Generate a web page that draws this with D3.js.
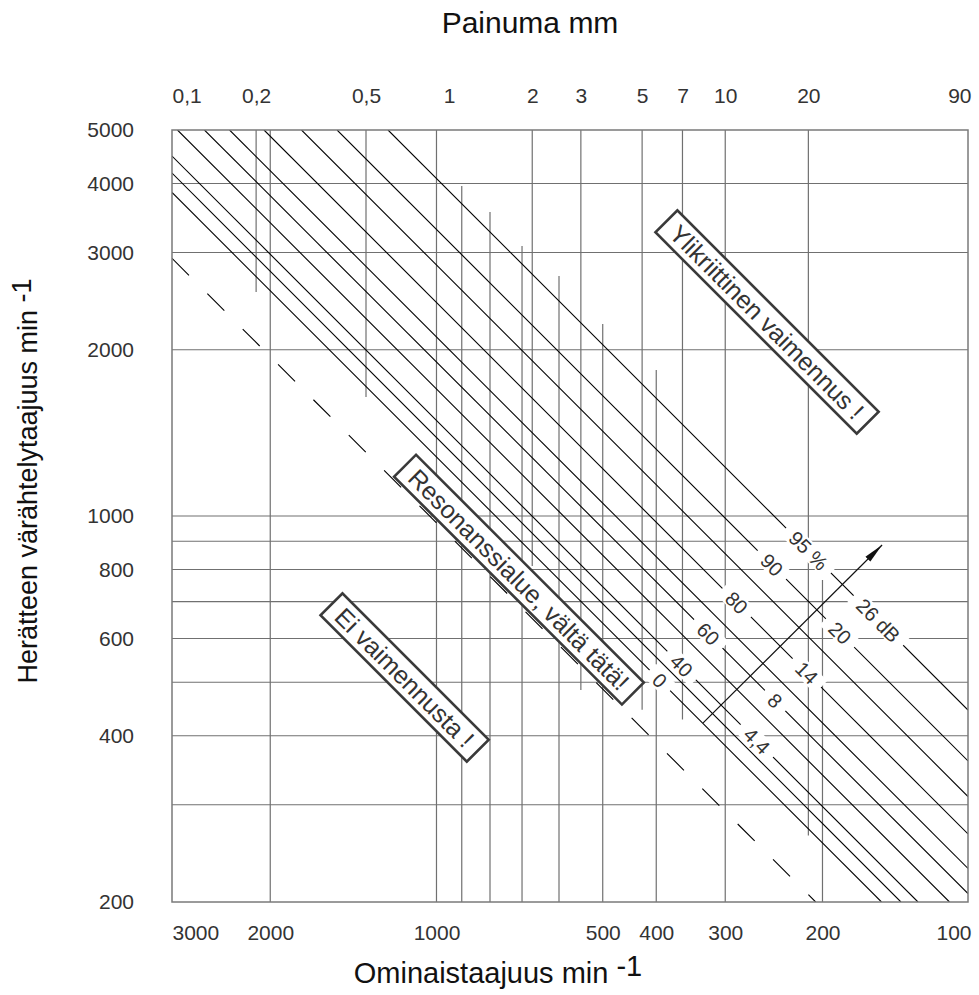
<!DOCTYPE html>
<html><head><meta charset="utf-8">
<script src="https://cdn.jsdelivr.net/npm/d3@7"></script>
<style>
body{margin:0;background:#fff}
svg text{font-family:"Liberation Sans",Arial,Helvetica,sans-serif}
</style>
</head><body>
<svg id="c" width="979" height="995"></svg>
<script>
// ---------------- data ----------------
const yTicks = [5000, 4000, 3000, 2000, 1000, 800, 600, 400, 200];
const yGrid = [4000, 3000, 2000, 1000, 900, 800, 700, 600, 500, 400, 300];
const xTicks = [3000, 2000, 1000, 500, 400, 300, 200, 100];
const freqLines = [2000, 1000, 900, 800, 700, 600, 500, 400, 300, 200];
const freqLineFrom = [5000, 5000, 3959, 3551, 3083, 2719, 2226, 1838, 5000, 766];
const deflTicks = [0.1, 0.2, 0.5, 1, 2, 3, 5, 7, 10, 20, 90];
const deflLines = [0.2, 0.5, 2, 3, 5, 7, 20];
const deflLineTo = [2544, 1643, 812, 484, 446, 428, 264];
const resonanceRatio = 0.972;
const lineRatios = [1.279, 1.387, 1.489, 1.698, 1.900, 2.110, 2.436, 2.848, 3.303, 4.085];
const pctLabels = ["0", "", "40", "", "60", "", "80", "", "90", "95 %"];
const pctLabelAt = [394, null, 360, null, 322, null, 286, null, 247, 212];
const dbLabels = ["", "", "4,4", "", "8", "", "14", "", "20", "26 dB"];
const dbLabelAt = [null, null, 263, null, 243.7, null, 213.5, null, 185.9, 158.4];
const arrowFrom = [329, 422];
const arrowTo = [156, 886];
const noteTexts = ["Ylikriittinen vaimennus !", "Resonanssialue, vältä tätä!", "Ei vaimennusta !"];
const noteX = [252, 709, 1142];
const noteY = [2245, 767, 510];

// ---------------- layout ----------------
const L = 172, R = 968, T = 130, B = 902;
const svg = d3.select("#c");

const y = d3.scaleLog().domain([200, 5000]).range([B, T]);
const pxPerDec = (B - T) / Math.log10(5000 / 200);
const x0 = L + 1;
const x = d3.scaleLog().domain([3000, 100]).range([x0, x0 + pxPerDec * Math.log10(3000 / 100)]);
const xTop = d3.scaleLog().domain([0.1, 90]).range(x.range());

const defs = svg.append("defs");
defs.append("clipPath").attr("id", "plot").append("rect")
  .attr("x", L).attr("y", T).attr("width", R - L).attr("height", B - T);
defs.append("marker").attr("id", "arr").attr("viewBox", "0 0 20 10")
  .attr("refX", 20).attr("refY", 5).attr("markerWidth", 20).attr("markerHeight", 10)
  .attr("markerUnits", "userSpaceOnUse").attr("orient", "auto")
  .append("path").attr("d", "M0,1.5L20,5L0,8.5Z").attr("fill", "#111");

const plot = svg.append("g").attr("clip-path", "url(#plot)");
const gridColor = "#707070";

plot.selectAll("line.hg").data(yGrid).join("line").attr("class", "hg")
  .attr("x1", L).attr("x2", R).attr("y1", d => y(d)).attr("y2", d => y(d))
  .attr("stroke", gridColor).attr("stroke-width", 1.2);

plot.selectAll("line.fv").data(freqLines).join("line").attr("class", "fv")
  .attr("x1", d => x(d)).attr("x2", d => x(d))
  .attr("y1", (d, i) => y(freqLineFrom[i])).attr("y2", y(200))
  .attr("stroke", gridColor).attr("stroke-width", 1.2);

plot.selectAll("line.dv").data(deflLines).join("line").attr("class", "dv")
  .attr("x1", d => xTop(d)).attr("x2", d => xTop(d))
  .attr("y1", y(5000)).attr("y2", (d, i) => y(deflLineTo[i]))
  .attr("stroke", gridColor).attr("stroke-width", 1.2);

// diagonal lines
const vL = x.invert(L), vR = x.invert(R);
function ends(r) {
  const v0 = Math.min(vL, 5000 / r), v1 = Math.max(vR, 200 / r);
  return [[v0, r * v0], [v1, r * v1]];
}
const line = d3.line().x(d => x(d[0])).y(d => y(d[1]));
plot.append("path").attr("d", line(ends(resonanceRatio)))
  .attr("fill", "none").attr("stroke", "#000").attr("stroke-width", 1.1)
  .attr("stroke-dasharray", "24 26");
plot.selectAll("path.diag").data(lineRatios).join("path").attr("class", "diag")
  .attr("d", r => line(ends(r)))
  .attr("fill", "none").attr("stroke", "#000").attr("stroke-width", 1.1);

// line labels
function lineLabel(text, v, r) {
  const g = svg.append("g").attr("transform", `translate(${x(v)},${y(r * v)}) rotate(45)`);
  const bg = g.append("rect").attr("fill", "#fff");
  const t = g.append("text").text(text).attr("text-anchor", "middle").attr("dy", "0.36em")
    .attr("font-size", 20).attr("fill", "#333");
  const w = t.node().getComputedTextLength();
  bg.attr("x", -w / 2 - 9).attr("width", w + 18).attr("y", -9).attr("height", 18);
}
lineRatios.forEach((r, i) => {
  if (pctLabels[i]) lineLabel(pctLabels[i], pctLabelAt[i], r);
  if (dbLabels[i]) lineLabel(dbLabels[i], dbLabelAt[i], r);
});

// arrow
svg.append("line")
  .attr("x1", x(arrowFrom[0])).attr("y1", y(arrowFrom[1]))
  .attr("x2", x(arrowTo[0])).attr("y2", y(arrowTo[1]))
  .attr("stroke", "#111").attr("stroke-width", 1.2).attr("marker-end", "url(#arr)");

// frame
svg.append("rect").attr("x", L).attr("y", T).attr("width", R - L).attr("height", B - T)
  .attr("fill", "none").attr("stroke", "#7a7a7a").attr("stroke-width", 1.5);

// notes
noteTexts.forEach((txt, i) => {
  const g = svg.append("g").attr("transform", `translate(${x(noteX[i])},${y(noteY[i])}) rotate(45)`);
  const bg = g.append("rect").attr("fill", "#fff").attr("stroke", "#3a3a3a").attr("stroke-width", 2.6);
  const t = g.append("text").text(txt).attr("text-anchor", "middle").attr("dy", "0.36em")
    .attr("font-size", 25).attr("fill", "#333");
  const w = t.node().getComputedTextLength();
  bg.attr("x", -w / 2 - 11).attr("width", w + 22).attr("y", -15.5).attr("height", 31);
});

// axes
function styleAxis(g, size) {
  g.select(".domain").remove();
  g.attr("font-size", size).attr("font-family", '"Liberation Sans",Arial,sans-serif');
  g.selectAll("text").attr("fill", "#333");
}
function clampLabels(g, scale) {
  g.selectAll(".tick").each(function (d) {
    const t = d3.select(this).select("text");
    const w = t.node().getComputedTextLength();
    const cx = scale(d);
    const c = Math.max(L + w / 2, Math.min(R + 3 - w / 2, cx));
    t.attr("x", c - cx);
  });
}
const gB = svg.append("g").attr("transform", `translate(0,${B + 23})`)
  .call(d3.axisBottom(x).tickValues(xTicks).tickSize(0).tickPadding(0).tickFormat(d3.format("d")));
styleAxis(gB, 21); clampLabels(gB, x);

const gT = svg.append("g").attr("transform", `translate(0,103)`)
  .call(d3.axisTop(xTop).tickValues(deflTicks).tickSize(0).tickPadding(0)
    .tickFormat(d => String(d).replace(".", ",")));
styleAxis(gT, 21); clampLabels(gT, xTop);

const gL = svg.append("g").attr("transform", `translate(134,0)`)
  .call(d3.axisLeft(y).tickValues(yTicks).tickSize(0).tickPadding(0).tickFormat(d3.format("d")));
styleAxis(gL, 21);

// titles
svg.append("text").attr("x", 530).attr("y", 33).attr("text-anchor", "middle")
  .attr("font-size", 30).attr("fill", "#111").text("Painuma mm");
const bt = svg.append("text").attr("x", 498).attr("y", 983).attr("text-anchor", "middle")
  .attr("font-size", 29).attr("fill", "#111");
bt.append("tspan").text("Ominaistaajuus min ");
bt.append("tspan").attr("dy", -7).text("-1");
const lt = svg.append("text").attr("transform", "translate(37,481) rotate(-90)")
  .attr("text-anchor", "middle").attr("font-size", 27).attr("fill", "#111");
lt.append("tspan").text("Herätteen värähtelytaajuus min ");
lt.append("tspan").attr("dy", -6).text("-1");
</script>
</body></html>
